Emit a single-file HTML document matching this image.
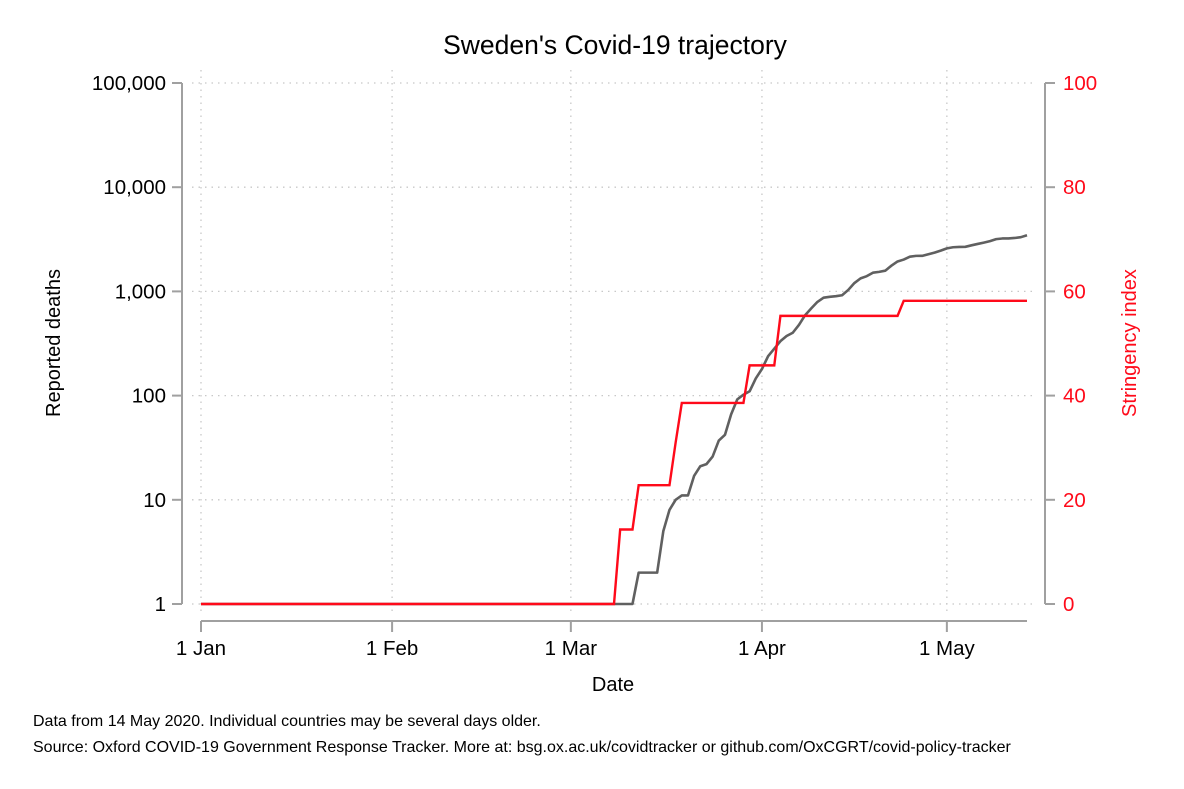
<!DOCTYPE html>
<html><head><meta charset="utf-8"><style>
body{margin:0;background:#fff;}
svg{display:block;font-family:"Liberation Sans",Arial,sans-serif;}
</style></head><body>
<svg id="chart" width="1184" height="789">
<rect width="1184" height="789" fill="#fff"/>
<text x="615" y="54" font-size="26.5" text-anchor="middle">Sweden's Covid-19 trajectory</text>
<g id="grid"></g><g id="axes"></g><g id="series"></g>
<text x="613" y="691" font-size="20" text-anchor="middle">Date</text>
<text transform="translate(60,343) rotate(-90)" font-size="20" text-anchor="middle">Reported deaths</text>
<text transform="translate(1136,343) rotate(-90)" font-size="20" text-anchor="middle" fill="#ff0a1a">Stringency index</text>
<text x="33" y="726" font-size="16">Data from 14 May 2020. Individual countries may be several days older.</text>
<text x="33" y="752" font-size="16">Source: Oxford COVID-19 Government Response Tracker. More at: bsg.ox.ac.uk/covidtracker or github.com/OxCGRT/covid-policy-tracker</text>
</svg>
<script>
const deathStartDay = 70;
const deaths = [1,2,2,2,2,5,8,10,11,11,17,21,22,26,37,42,66,92,102,110,146,180,239,282,333,373,401,477,591,687,793,870,887,899,919,1033,1203,1333,1400,1511,1540,1580,1765,1937,2021,2152,2192,2194,2274,2355,2462,2586,2653,2669,2679,2769,2854,2941,3040,3175,3220,3225,3256,3313,3460];
const stringencyStartDay = 66;
const stringency = [0,0,14.3,14.3,14.3,22.8,22.8,22.8,22.8,22.8,22.8,31,38.6,38.6,38.6,38.6,38.6,38.6,38.6,38.6,38.6,38.6,38.6,45.8,45.8,45.8,45.8,45.8,55.3,55.3,55.3,55.3,55.3,55.3,55.3,55.3,55.3,55.3,55.3,55.3,55.3,55.3,55.3,55.3,55.3,55.3,55.3,55.3,58.2,58.2,58.2,58.2,58.2,58.2,58.2,58.2,58.2,58.2,58.2,58.2,58.2,58.2,58.2,58.2,58.2,58.2,58.2,58.2,58.2];
const lastDay = 134;
const xTickDays = [0,31,60,91,121];
const xTickLabels = ["1 Jan","1 Feb","1 Mar","1 Apr","1 May"];
const yTicks = [1,10,100,1000,10000,100000];
const yTickLabels = ["1","10","100","1,000","10,000","100,000"];
const y2Ticks = [0,20,40,60,80,100];

const NS="http://www.w3.org/2000/svg";
const X=d=>201+d*(826/134);
const Y=v=>604-Math.log10(v)*104.2;
const Y2=v=>604-v*5.21;
function mk(tag,attrs,parent,text){const e=document.createElementNS(NS,tag);for(const k in attrs)e.setAttribute(k,attrs[k]);if(text!==undefined)e.textContent=text;document.getElementById(parent).appendChild(e);return e;}

yTicks.forEach((v,i)=>{
  const g=mk('line',{x1:192,x2:1036,y1:Y(v),y2:Y(v),stroke:'#c8c8c8','stroke-dasharray':'1.5 5','stroke-width':1.3},'grid');
  
  
  const t=mk('line',{x1:172,x2:182,y1:Y(v),y2:Y(v),stroke:'#a0a0a0','stroke-width':2},'axes');
  
  
  const l=mk('text',{x:166,y:Y(v)+7,'font-size':20.5,'text-anchor':'end'},'axes',yTickLabels[i]);
  
  
});
xTickDays.forEach((d,i)=>{
  const g=mk('line',{x1:X(d),x2:X(d),y1:70,y2:612,stroke:'#c8c8c8','stroke-dasharray':'1.5 5','stroke-width':1.3},'grid');
  
  
  const t=mk('line',{x1:X(d),x2:X(d),y1:621,y2:632,stroke:'#a0a0a0','stroke-width':2},'axes');
  
  
  const l=mk('text',{x:X(d),y:655,'font-size':20.5,'text-anchor':'middle'},'axes',xTickLabels[i]);
  
  
});
y2Ticks.forEach(v=>{
  const t=mk('line',{x1:1045,x2:1055,y1:Y2(v),y2:Y2(v),stroke:'#a0a0a0','stroke-width':2},'axes');
  
  
  const l=mk('text',{x:1063,y:Y2(v)+7,'font-size':20.5,fill:'#ff0a1a'},'axes',String(v));
  
  
});
let a=mk('line',{x1:182,x2:182,y1:Y(100000),y2:Y(1),stroke:'#a0a0a0','stroke-width':2},'axes');


a=mk('line',{x1:1045,x2:1045,y1:Y2(100),y2:Y2(0),stroke:'#a0a0a0','stroke-width':2},'axes');


a=mk('line',{x1:X(0),x2:X(lastDay),y1:621,y2:621,stroke:'#a0a0a0','stroke-width':2},'axes');



let dp=[];
for(let d=0;d<deathStartDay;d++)dp.push([X(d),Y(1)]);
deaths.forEach((v,i)=>dp.push([X(deathStartDay+i),Y(v)]));
const p1=mk('polyline',{points:dp.map(p=>p.join(',')).join(' '),fill:'none',stroke:'#606060','stroke-width':2.6,'stroke-linejoin':'round'},'series');


let sp=[];
for(let d=0;d<stringencyStartDay;d++)sp.push([X(d),Y2(0)]);
stringency.forEach((v,i)=>sp.push([X(stringencyStartDay+i),Y2(v)]));
const p2=mk('polyline',{points:sp.map(p=>p.join(',')).join(' '),fill:'none',stroke:'#ff0a1a','stroke-width':2.4,'stroke-linejoin':'miter'},'series');


</script>
</body></html>
